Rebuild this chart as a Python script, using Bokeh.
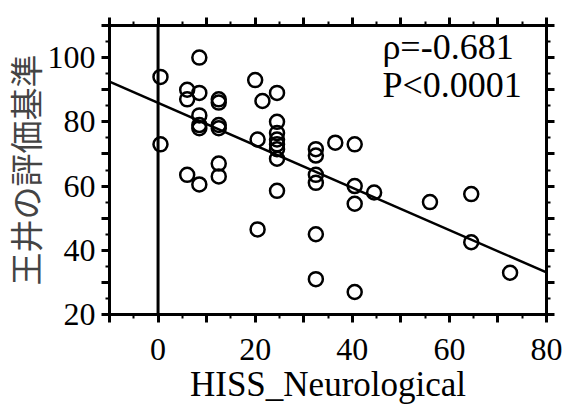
from bokeh.plotting import figure
from bokeh.models import LinearAxis, FixedTicker, Span, Label, Range1d, Title
from bokeh.embed import file_html
from bokeh.resources import INLINE

# ---- data ----
hiss_x = [0.5, 0.5, 8.5, 6, 6, 8.5, 12.5, 12.5, 8.5, 8.5, 8.5, 12.5, 12.5, 12.5, 12.5,
          6, 8.5, 20, 21.5, 24.5, 20.5, 24.5, 24.5, 24.5, 24.5, 24.5, 24.5, 24.5, 20.5,
          32.5, 32.5, 32.5, 32.5, 32.5, 32.5, 36.5, 40.5, 40.5, 40.5, 40.5, 44.5, 56,
          64.5, 64.5, 72.5]
score_y = [94, 73, 100, 90, 87, 89, 87, 86, 82, 79, 78, 79, 78, 67, 63,
           63.5, 60.5, 93, 86.5, 89, 74.5, 80, 76.5, 74.5, 73, 71.5, 68.5, 58.5, 46.5,
           71.5, 69.5, 63.5, 61, 45, 31, 73.5, 73, 60, 54.5, 27, 58, 55,
           57.5, 42.5, 33]
reg_slope = -0.66
reg_intercept = 85.9
x_ticks = [-10, 0, 10, 20, 30, 40, 50, 60, 70, 80]
x_labels = {-10: "", 0: "0", 10: "", 20: "20", 30: "", 40: "40", 50: "", 60: "60", 70: "", 80: "80"}
y_ticks = [20, 30, 40, 50, 60, 70, 80, 90, 100, 110]
y_labels = {20: "20", 30: "", 40: "40", 50: "", 60: "60", 70: "", 80: "80", 90: "", 100: "100", 110: ""}
minor_x = [-10 + 5 * i for i in range(19)]
minor_y = [20 + 5 * i for i in range(19)]
x_title = "HISS_Neurological"
y_title = "王井の評価基準"
stat_lines = ["ρ=-0.681", "P<0.0001"]

SERIF = "Liberation Serif"

p = figure(width=571, height=414, x_range=Range1d(-10, 80), y_range=Range1d(20, 110),
           output_backend="svg", toolbar_location=None,
           x_axis_location=None, y_axis_location=None,
           min_border_left=109, min_border_right=25, min_border_top=25, min_border_bottom=100)
p.background_fill_color = "white"
p.border_fill_color = "white"
p.grid.visible = False
p.outline_line_color = "black"
p.outline_line_width = 3


def make_axis(ticks, minor, labels, show_labels):
    ax = LinearAxis(ticker=FixedTicker(ticks=ticks, minor_ticks=minor))
    ax.axis_line_width = 3
    ax.major_tick_line_width = 3
    ax.minor_tick_line_width = 2
    ax.major_tick_out = 8
    ax.major_tick_in = 0
    ax.minor_tick_out = 4
    ax.minor_tick_in = 0
    if show_labels:
        ax.major_label_overrides = labels
        ax.major_label_text_font = SERIF
        ax.major_label_text_font_size = "32px"
        ax.major_label_text_color = "black"
    else:
        ax.major_label_overrides = {t: "" for t in ticks}
        ax.major_label_text_font_size = "10px"
    return ax


bottom = make_axis(x_ticks, minor_x, x_labels, True)
bottom.major_label_standoff = 16
p.add_layout(bottom, "below")

left = make_axis(y_ticks, minor_y, y_labels, True)
left.major_label_standoff = 6
p.add_layout(left, "left")

top = make_axis(x_ticks, minor_x, x_labels, False)
p.add_layout(top, "above")
right = make_axis(y_ticks, minor_y, y_labels, False)
p.add_layout(right, "right")

# axis titles
p.add_layout(Title(text=x_title, align="center", offset=11, standoff=0,
                   text_font=SERIF, text_font_style="normal", text_font_size="35px",
                   text_color="black"), "below")
p.add_layout(Title(text=y_title, align="center", offset=63, standoff=-8,
                   text_font="Noto Sans CJK JP", text_font_style="normal",
                   text_font_size="33px", text_color="#444444"), "left")

# vertical reference line at x = 0
p.add_layout(Span(location=0, dimension="height", line_color="black", line_width=3))

# regression line
fit_x = [-10, 80]
fit_y = [reg_intercept + reg_slope * v for v in fit_x]
p.line(fit_x, fit_y, line_color="black", line_width=2.5)

# data points
p.scatter(hiss_x, score_y, marker="circle", size=14, fill_color=None,
          line_color="black", line_width=2.5)

# statistics
p.add_layout(Label(x=46.2, y=103.2, text=stat_lines[0], text_font=SERIF,
                   text_font_size="36px", text_color="black", text_baseline="alphabetic"))
p.add_layout(Label(x=46.2, y=91.4, text=stat_lines[1], text_font=SERIF,
                   text_font_size="36px", text_color="black", text_baseline="alphabetic"))

open("out.html", "w").write(file_html(p, INLINE))
